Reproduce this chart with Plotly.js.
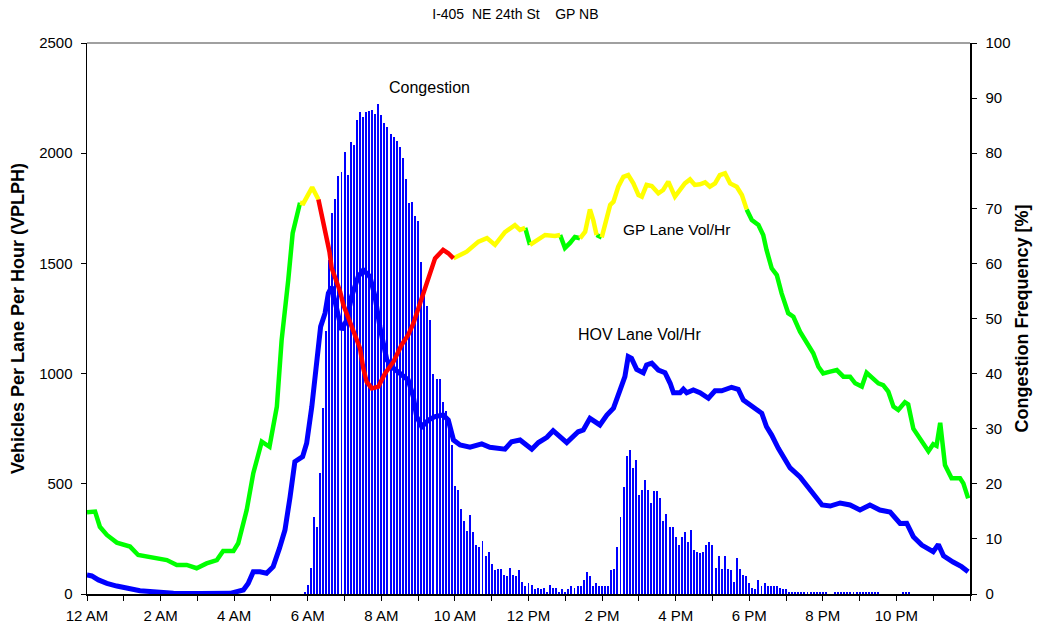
<!DOCTYPE html>
<html><head><meta charset="utf-8">
<script src="https://cdn.plot.ly/plotly-3.0.1.min.js"></script>
<style>html,body{margin:0;padding:0;background:#fff}#chart{width:1037px;height:630px}</style>
</head><body><div id="chart"></div>
<script>
// Congestion frequency (%) for each 5-minute interval starting at 12 AM
const barStepMinutes = 5;
const congestionPct = [
0,0,0,0,0,0,0,0,0,0,0,0, 0,0,0,0,0,0,0,0,0,0,0,0,
0,0,0,0,0,0,0,0,0,0,0,0, 0,0,0,0,0,0,0,0,0,0,0,0,
0,0,0,0,0,0,0,0,0,0,0,0, 0,0,0,0,0,0,0,0,0,0,0,0.4,
1.6,4.7,14,12.2,22,33.8,47.7,60.6,69.1,71.6,75.9,76.5,
80.3,76,82.1,81.5,86,87.5,86.6,87.5,87.7,87.8,87.2,88.9,
86.9,85.4,84.7,83.4,82.9,82.2,81.1,79.2,75.4,70.9,71.1,68.6,
67.7,60.2,54.9,52.3,49.7,39.9,39.1,39.1,34.8,33.2,30.1,27,
19.6,18.9,15.4,13.3,11.4,14.3,11.3,8.9,8.5,9.6,6.9,7.6,
5.4,4.4,4.5,4.5,3.4,3.3,4.7,3.4,3.3,4.4,2.2,1.5,
2.0,1.6,0.9,1.1,0.9,1.1,0.4,1.6,1.1,1.1,0.4,0.9,
0.4,0.9,1.5,1.1,1.5,1.5,2.5,4.0,3.3,1.5,2.0,1.5,
1.5,1.5,1.5,4.4,4.5,8.5,14.0,19.4,25.0,26.1,22.9,24.3,
18.0,18.9,20.7,18.9,16.5,18.7,18.7,17.4,13.2,14.5,12.2,12.2,
10.3,8.9,10.3,11.3,9.4,11.6,8.0,7.6,7.4,7.6,8.9,9.4,
8.9,4.7,6.9,4.5,6.9,4.5,4.4,2.2,6.5,4.5,3.4,3.3,
2.0,1.1,0.9,2.5,1.5,2.0,1.5,1.5,1.5,1.5,1.1,0.9,
0.9,0.4,0.4,0.4,0.4,0.4,0.4,0.4,0.4,0.4,0.4,0.4,
0.4,0.4,0,0,0.4,0.4,0.4,0.4,0.4,0.4,0.4,0.4,
0.4,0.4,0.4,0.4,0.4,0.4,0.4,0,0,0,0,0,
0,0,0.4,0.4,0.4,0,0,0,0,0,0,0,
0,0,0,0,0,0,0,0,0,0,0,0
];

// GP lane volume (VPLPH); time in hours
const gpTimes = [0.00,0.22,0.35,0.54,0.81,0.99,1.17,1.39,1.62,1.94,2.17,2.44,2.71,2.98,3.25,3.53,3.70,3.98,4.11,4.34,4.52,4.75,4.96,5.16,5.29,5.47,5.59,5.79,
5.88,6.12,6.29,
6.47,6.59,6.65,6.79,6.88,6.97,7.15,7.28,7.42,7.51,7.60,7.74,7.92,8.10,8.33,8.55,8.73,8.87,9.10,9.32,9.46,9.68,9.82,9.96,
10.32,10.64,10.87,11.09,11.36,11.63,11.77,11.91,12.04,12.23,12.45,12.72,12.86,12.99,13.13,13.26,13.40,13.54,13.67,13.76,13.85,13.99,
14.11,14.22,14.31,14.44,14.58,14.71,14.85,14.99,15.08,15.21,15.35,15.53,15.66,15.80,15.98,16.12,16.25,16.39,16.52,16.66,16.80,16.93,17.07,17.20,17.34,17.48,17.66,17.80,17.93,
18.07,18.25,18.38,18.47,18.61,18.75,18.88,19.06,19.20,19.38,19.56,19.74,19.88,20.01,20.20,20.38,20.56,20.74,20.88,21.06,21.19,21.37,21.51,21.64,21.78,21.92,22.05,22.23,22.32,22.46,22.64,22.87,23.00,23.09,23.19,23.32,23.50,23.73,23.82,23.95];
const gpVolume = [371,374,305,268,233,222,215,177,169,157,154,132,132,117,139,154,195,195,230,381,548,691,668,850,1152,1425,1637,1775,
1772,1845,1790,
1660,1553,1479,1417,1372,1311,1235,1175,1115,1024,963,933,941,1001,1054,1130,1175,1228,1342,1447,1523,1561,1546,1523,
1553,1599,1615,1584,1642,1674,1652,1661,1584,1607,1629,1624,1629,1570,1593,1620,1614,1644,1745,1697,1629,1618,
1689,1765,1780,1848,1893,1901,1863,1810,1803,1856,1851,1818,1833,1871,1803,1836,1863,1881,1856,1859,1868,1848,1863,1901,1909,1863,1848,1810,1745,
1697,1674,1629,1561,1478,1447,1364,1274,1258,1190,1137,1092,1031,1001,1009,1016,986,986,956,941,1004,979,956,948,918,850,835,870,860,750,705,648,680,672,777,585,525,525,502,434];
// traffic state of the segment ending at each point: G = green, Y = yellow, R = red
const gpState = [
'G','G','G','G','G','G','G','G','G','G','G','G','G','G','G','G','G','G','G','G','G','G','G','G','G','G','G','G',
'Y','Y','Y',
'R','R','R','R','R','R','R','R','R','R','R','R','R','R','R','R','R','R','R','R','R','R','R','R',
'Y','Y','Y','Y','Y','Y','Y','Y','G','Y','Y','Y','Y','G','G','G','G','Y','Y','Y','Y','G',
'Y','Y','Y','Y','Y','Y','Y','Y','Y','Y','Y','Y','Y','Y','Y','Y','Y','Y','Y','Y','Y','Y','Y','Y','Y','Y','Y','Y','Y',
'G','G','G','G','G','G','G','G','G','G','G','G','G','G','G','G','G','G','G','G','G','G','G','G','G','G','G','G','G','G','G','G','G','G','G','G','G','G','G','G'];
const stateColors = {G:'#00FF00', Y:'#FFFF00', R:'#FF0000'};

// HOV lane volume (VPLPH)
const hovTimes = [0.00,0.13,0.31,0.54,0.81,1.12,1.44,1.80,2.35,3.07,3.89,4.25,4.38,4.52,4.70,4.88,5.06,5.23,5.38,5.52,5.65,5.86,5.97,6.11,6.24,6.35,6.47,6.56,6.65,6.74,6.92,7.06,7.19,7.37,7.51,7.69,7.83,7.96,8.15,8.33,8.60,8.73,8.87,8.96,9.10,9.28,9.46,9.68,9.82,9.96,
10.14,10.41,10.73,10.95,11.36,11.54,11.77,12.09,12.27,12.50,12.67,13.04,13.35,13.49,13.67,13.94,14.13,14.31,14.49,14.62,14.71,14.80,14.94,15.12,15.21,15.35,15.53,15.71,15.85,15.94,16.12,16.21,16.30,16.48,16.66,16.89,17.07,17.25,17.52,17.70,17.84,
18.02,18.20,18.34,18.47,18.61,18.79,19.11,19.38,19.65,19.98,20.20,20.47,20.74,21.01,21.28,21.55,21.83,22.10,22.28,22.46,22.69,23.00,23.14,23.28,23.54,23.77,23.95];
const hovVolume = [86,82,64,48,36,26,15,10,3,2,3,18,48,101,101,94,124,207,290,441,600,623,684,850,1031,1213,1274,1364,1394,1334,1198,1243,1349,1440,1470,1440,1349,1213,1062,1024,986,971,895,805,759,789,805,812,789,699,
676,666,681,666,657,691,699,657,687,711,741,687,736,744,797,767,812,843,926,986,1077,1069,1019,1004,1039,1047,1016,1004,956,913,913,929,913,926,913,888,922,922,938,929,880,
858,835,820,759,721,661,572,531,472,404,399,413,404,381,404,381,372,320,321,260,222,192,225,173,145,124,101];

const tickHours = [0,1,2,3,4,5,6,7,8,9,10,11,12,13,14,15,16,17,18,19,20,21,22,23,24];
const tickLabels = ['12 AM','','2 AM','','4 AM','','6 AM','','8 AM','','10 AM','','12 PM','','2 PM','','4 PM','','6 PM','','8 PM','','10 PM','',''];

const barTimes = congestionPct.map((_, i) => i * barStepMinutes / 60);

function gpSegments(state) {
  const xs = [], ys = [];
  for (let i = 1; i < gpTimes.length; i++) {
    if (gpState[i] !== state) continue;
    if (i === 1 || gpState[i - 1] !== state) {
      if (xs.length) { xs.push(null); ys.push(null); }
      xs.push(gpTimes[i - 1]); ys.push(gpVolume[i - 1]);
    }
    xs.push(gpTimes[i]); ys.push(gpVolume[i]);
  }
  return {x: xs, y: ys, type: 'scatter', mode: 'lines', yaxis: 'y2', connectgaps: false,
    line: {color: stateColors[state], width: 4.5}, hoverinfo: 'skip', showlegend: false};
}

const font = 'Liberation Sans, Arial, sans-serif';
const traces = [
  {x: barTimes, y: congestionPct, type: 'bar', width: 0.053, marker: {color: '#0000FF', line: {width: 0}}, yaxis: 'y', showlegend: false, hoverinfo: 'skip'},
  {x: hovTimes, y: hovVolume, type: 'scatter', mode: 'lines', yaxis: 'y2', line: {color: '#0000FF', width: 5}, showlegend: false, hoverinfo: 'skip'},
  gpSegments('G'), gpSegments('Y'), gpSegments('R')
];

const tickFont = {family: font, size: 15, color: '#000'};
const layout = {
  width: 1037, height: 630,
  margin: {l: 87, r: 67, t: 43, b: 36},
  paper_bgcolor: '#fff', plot_bgcolor: '#fff',
  font: {family: font, size: 15, color: '#000'},
  showlegend: false,
  bargap: 0,
  title: {text: 'I-405\u00a0\u00a0NE 24th St\u00a0\u00a0\u00a0\u00a0GP NB', font: {family: font, size: 14, color: '#000'},
          x: 0.497, xref: 'container', xanchor: 'center', y: 0.978, yref: 'container', yanchor: 'middle'},
  xaxis: {range: [0, 24], tickvals: tickHours, ticktext: tickLabels, ticks: 'outside', ticklen: 5, tickcolor: '#000',
          showline: true, linecolor: '#000', linewidth: 1.5, showgrid: false, zeroline: false,
          tickfont: tickFont, ticklabelstandoff: 2},
  yaxis: {range: [0, 100], dtick: 10, side: 'right', ticks: 'outside', ticklen: 5, tickcolor: '#000',
          showline: true, linecolor: '#000', linewidth: 1.5, showgrid: false, zeroline: false,
          tickfont: tickFont, ticklabelstandoff: 6,
          title: {text: 'Congestion Frequency [%]', font: {family: font, size: 18, color: '#000', weight: 'bold'}, standoff: 6}},
  yaxis2: {range: [0, 2500], dtick: 500, side: 'left', overlaying: 'y', ticks: 'outside', ticklen: 5, tickcolor: '#000',
          showline: true, linecolor: '#000', linewidth: 1.5, showgrid: false, zeroline: false,
          tickfont: tickFont, ticklabelstandoff: 5,
          title: {text: 'Vehicles Per Lane Per Hour (VPLPH)', font: {family: font, size: 18, color: '#000', weight: 'bold'}, standoff: 10}},
  shapes: [{type: 'line', xref: 'paper', yref: 'paper', x0: 0, x1: 1, y0: 1, y1: 1, line: {color: '#808080', width: 1.5}}],
  annotations: [
    {text: 'Congestion', x: 9.32, y: 2300, xref: 'x', yref: 'y2', showarrow: false, font: {family: font, size: 16, color: '#000'}},
    {text: 'GP Lane Vol/Hr', x: 16.01, y: 1656, xref: 'x', yref: 'y2', showarrow: false, font: {family: font, size: 15.5, color: '#000'}},
    {text: 'HOV Lane Vol/Hr', x: 15.03, y: 1178, xref: 'x', yref: 'y2', showarrow: false, font: {family: font, size: 16, color: '#000'}}
  ]
};

Plotly.newPlot('chart', traces, layout, {displayModeBar: false, staticPlot: true});
</script>
</body></html>
